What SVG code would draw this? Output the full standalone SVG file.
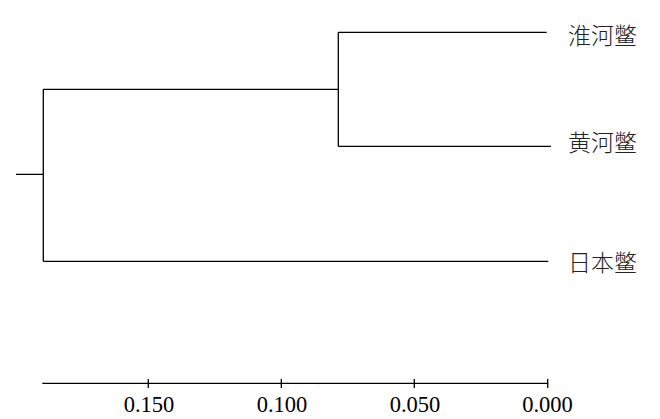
<svg xmlns="http://www.w3.org/2000/svg" width="660" height="419" viewBox="0 0 660 419">
<style>
.ln{stroke:#000;stroke-width:1.3;fill:none}
.lab{font-family:"Noto Sans CJK SC","Noto Sans CJK TC",sans-serif;font-size:23px;fill:#222;font-weight:300}
.num{font-family:"Liberation Serif","Times New Roman",serif;font-size:22.5px;fill:#000;text-anchor:middle}
</style>
<rect width="660" height="419" fill="#fff"/>
<g id="connectors">
<path class="ln" d="M16,174.3H43.3M43.3,89.3V261.3M43.3,89.3H338.3M43.3,261.3H548.3M338.3,32.3V146.3M338.3,32.3H546.7M338.3,146.3H551"/>
</g>
<g id="node-huaihe"><text class="lab" x="568" y="43.5">淮河鳖</text></g>
<g id="node-huanghe"><text class="lab" x="568" y="151">黄河鳖</text></g>
<g id="node-riben"><text class="lab" x="568" y="270.5">日本鳖</text></g>
<g id="axis">
<path class="ln" d="M42.3,383.3H547.7M148.3,379V388M281.3,379V388M414.3,379V388M547.7,379V388"/>
<text class="num" x="149" y="411.7">0.150</text>
<text class="num" x="282" y="411.7">0.100</text>
<text class="num" x="415" y="411.7">0.050</text>
<text class="num" x="547.5" y="411.7">0.000</text>
</g>
</svg>
